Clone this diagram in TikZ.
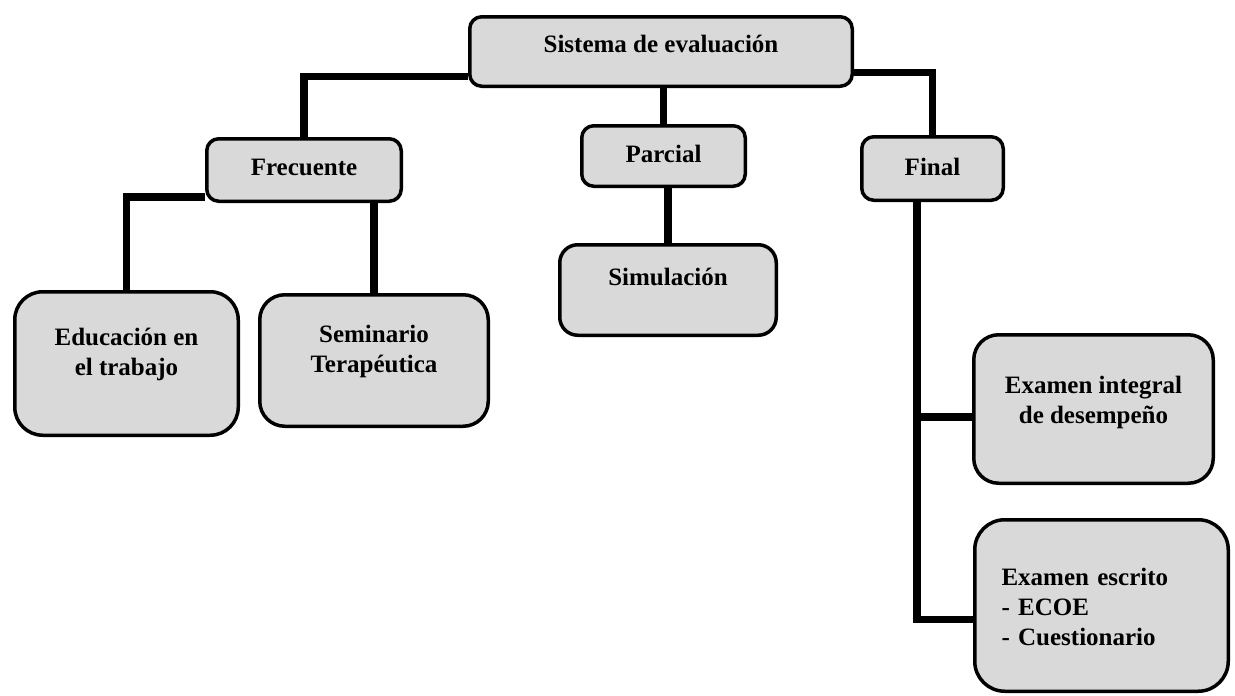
\documentclass[tikz,border=0pt]{standalone}
\usepackage{fontspec}
\setmainfont{Liberation Serif}
\usetikzlibrary{positioning,calc}
\definecolor{boxgray}{RGB}{217,217,217}
\tikzset{
  box/.style={draw, line width=3.5pt, fill=boxgray, rounded corners=12pt, inner sep=0pt,
    font=\fontsize{25}{30}\selectfont\bfseries, text height=17pt},
  bigbox/.style={box, rounded corners=25pt, align=center},
  link/.style={line width=7.5pt}
}
\begin{document}
\begin{tikzpicture}[x=1pt,y=-1pt]
    \useasboundingbox (0,0) rectangle (1235,696);
    % top level
    \node[box, minimum width=382.5pt, minimum height=69.5pt, text depth=16pt] (sistema) at (661,51.5) {Sistema de evaluación};
    % second level
    \node[box, minimum width=194.5pt, minimum height=62.5pt, text depth=7pt] (frecuente) at (304,170) {Frecuente};
    \node[box, minimum width=163.5pt, minimum height=60.5pt, text depth=5pt] (parcial) at (663.5,156) {Parcial};
    \node[box, minimum width=141.5pt, minimum height=63.5pt, text depth=4pt] (final) at (932.5,168.5) {Final};
    % third level
    \node[bigbox, minimum width=223.5pt, minimum height=143.5pt, rounded corners=28pt, text height=47pt, text depth=24pt] (educacion) at (126.5,363.5) {Educación en\\el trabajo};
    \node[bigbox, minimum width=228.5pt, minimum height=131.5pt, text height=47pt, text depth=24pt] (seminario) at (374,360.5) {Seminario\\Terapéutica};
    \node[bigbox, minimum width=216.5pt, minimum height=90.5pt, rounded corners=18pt, text depth=27pt] (simulacion) at (668,290) {Simulación};
    \node[bigbox, minimum width=239.5pt, minimum height=148.5pt, text height=47pt, text depth=19pt] (integral) at (1093.5,409) {Examen integral\\de desempeño};
    \node[bigbox, align=left, text width=200pt, minimum width=253.5pt, minimum height=171.5pt, rounded corners=30pt, text depth=58pt] (escrito) at (1101.5,605.5) {Examen escrito\\- ECOE\\- Cuestionario};
    % connectors
    \draw[link] ([yshift=-25pt]sistema.west) -| (frecuente.north);
    \draw[link] (parcial.north |- sistema.south) -- (parcial.north);
    \draw[link] ([yshift=-21pt]sistema.east) -| (final.north);
    \draw[link] ([yshift=-27pt]frecuente.west) -| (educacion.north);
    \draw[link] (seminario.north |- frecuente.south) -- (seminario.north);
    \draw[link] (simulacion.north |- parcial.south) -- (simulacion.north);
    \draw[link] ([xshift=-15.5pt]final.south) |- ([yshift=-8pt]integral.west);
    \draw[link] ([xshift=-15.5pt]final.south) |- ([yshift=-14pt]escrito.west);
\end{tikzpicture}
\end{document}
